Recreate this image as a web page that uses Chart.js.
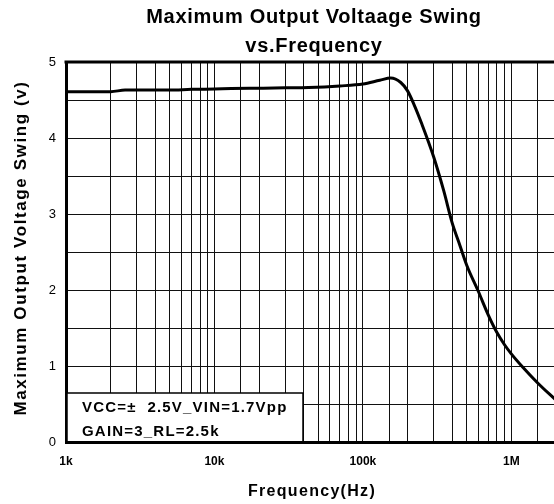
<!DOCTYPE html>
<html>
<head>
<meta charset="utf-8">
<script src="https://cdn.jsdelivr.net/npm/chart.js@4.4.1/dist/chart.umd.min.js"></script>
<style>
  html, body { margin: 0; padding: 0; background: #fff; overflow: hidden; }
  #wrap { width: 568px; height: 504px; }
</style>
</head>
<body>
<div id="wrap"><canvas id="swing" width="568" height="504"></canvas></div>
<script>
// frequency (Hz) and swing (V)
const freqHz = [1000, 1500, 2000, 2500, 3000, 5000, 7000, 10000, 13000, 20000, 30000, 43000,
  70000, 100000, 130000, 154000, 180000, 200000, 220000, 250000, 300000, 350000, 400000,
  450000, 500000, 600000, 700000, 800000, 900000, 1000000, 1200000, 1500000, 2000000];
const swingV = [4.61, 4.61, 4.61, 4.63, 4.63, 4.63, 4.64, 4.645, 4.65, 4.655, 4.66, 4.665,
  4.685, 4.71, 4.76, 4.79, 4.73, 4.62, 4.45, 4.18, 3.75, 3.31, 2.88,
  2.59, 2.33, 1.98, 1.67, 1.44, 1.28, 1.16, 0.98, 0.78, 0.55];

const xLabels = { 1000: "1k", 10000: "10k", 100000: "100k", 1000000: "1M" };
const yLabels = [0, 1, 2, 3, 4, 5];

const titleLines = ["Maximum Output Voltaage Swing", "vs.Frequency"];
const noteLines = ["VCC=\u00b1  2.5V_VIN=1.7Vpp", "GAIN=3_RL=2.5k"];

const points = freqHz.map((f, i) => ({ x: f, y: swingV[i] }));

// titles, top border and the condition box
const extras = {
  id: "extras",
  afterDatasetsDraw(chart) {
    const { ctx, chartArea: a } = chart;
    ctx.save();
    // top border
    ctx.strokeStyle = "#000";
    ctx.lineWidth = 3;
    ctx.beginPath();
    ctx.moveTo(a.left - 1.5, a.top);
    ctx.lineTo(a.right, a.top);
    ctx.stroke();

    // condition box
    ctx.fillStyle = "#fff";
    ctx.fillRect(a.left + 1, 393, 236, a.bottom - 393 - 1);
    ctx.lineWidth = 1.5;
    ctx.strokeRect(a.left + 1, 393, 236, a.bottom - 393);
    ctx.fillStyle = "#000";
    ctx.font = "bold 15px 'Liberation Sans', Arial, sans-serif";
    ctx.textAlign = "left";
    ctx.textBaseline = "alphabetic";
    ctx.letterSpacing = "1.2px";
    ctx.fillText(noteLines[0], 82, 412);
    ctx.fillText(noteLines[1], 82, 436);

    // chart title
    ctx.textAlign = "center";
    ctx.font = "bold 20px 'Liberation Sans', Arial, sans-serif";
    ctx.letterSpacing = "0.7px";
    ctx.fillText(titleLines[0], 314, 23);
    ctx.fillText(titleLines[1], 314, 52);

    // axis titles
    ctx.font = "bold 16px 'Liberation Sans', Arial, sans-serif";
    ctx.letterSpacing = "1.3px";
    ctx.fillText("Frequency(Hz)", 312, 496);
    ctx.font = "bold 17px 'Liberation Sans', Arial, sans-serif";
    ctx.letterSpacing = "1.6px";
    ctx.translate(26, 248);
    ctx.rotate(-Math.PI / 2);
    ctx.fillText("Maximum Output Voltage Swing (v)", 0, 0);
    ctx.restore();
  }
};

new Chart(document.getElementById("swing"), {
  type: "line",
  data: {
    datasets: [{
      data: points,
      borderColor: "#000",
      borderWidth: 3,
      pointRadius: 0,
      cubicInterpolationMode: "monotone",
      fill: false
    }]
  },
  options: {
    responsive: false,
    animation: false,
    layout: { padding: { top: 62, right: 2, left: 0, bottom: 0 } },
    plugins: { legend: { display: false }, tooltip: { enabled: false } },
    scales: {
      x: {
        type: "logarithmic",
        min: 1000,
        max: 2000000,
        afterFit(s) { s.height = 62; },
        grid: { color: "#111", lineWidth: 1, drawTicks: false },
        border: { color: "#000", width: 3 },
        ticks: {
          autoSkip: false,
          maxRotation: 0,
          padding: 12,
          color: "#000",
          font: { family: "'Liberation Sans', Arial, sans-serif", size: 12, weight: "bold" },
          callback: (v) => xLabels[v] || ""
        }
      },
      y: {
        min: 0,
        max: 5,
        afterFit(s) { s.width = 66; },
        grid: { color: "#111", lineWidth: 1, drawTicks: false },
        border: { color: "#000", width: 3 },
        ticks: {
          stepSize: 0.5,
          padding: 10,
          color: "#000",
          font: { family: "'Liberation Sans Narrow', 'Liberation Sans', Arial, sans-serif", size: 13 },
          callback: (v) => yLabels.includes(v) ? String(v) : ""
        }
      }
    }
  },
  plugins: [extras]
});
</script>
</body>
</html>
